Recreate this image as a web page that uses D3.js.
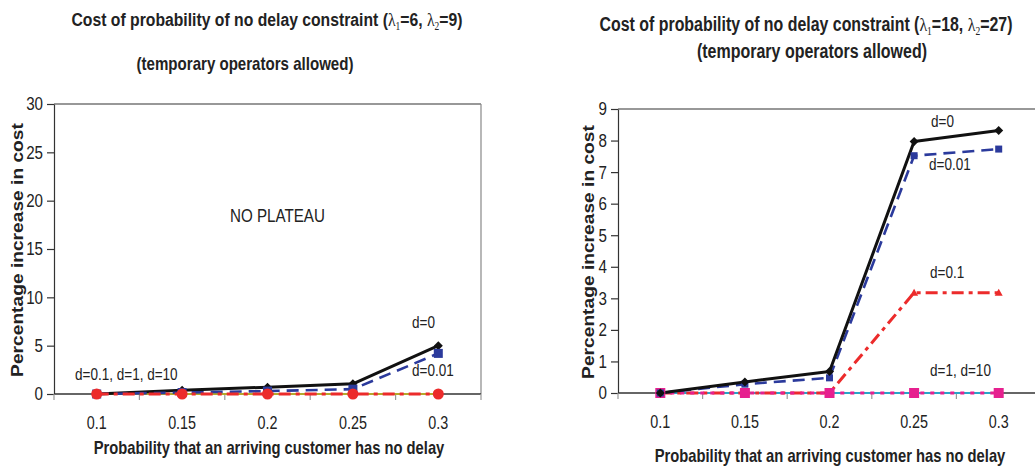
<!DOCTYPE html>
<html>
<head>
<meta charset="utf-8">
<script src="https://cdn.jsdelivr.net/npm/d3@7"></script>
<style>
  html, body { margin: 0; padding: 0; background: #fff; }
  svg { display: block; font-family: "Liberation Sans", Arial, sans-serif; }
</style>
</head>
<body>
<svg id="chart" width="1035" height="470"></svg>
<script>
// Shared categories: probability that an arriving customer has no delay
const categories = ["0.1", "0.15", "0.2", "0.25", "0.3"];

// Left panel (lambda1 = 6, lambda2 = 9)
const leftD0    = [0, 0.4, 0.7, 1.05, 5.0];
const leftD001  = [0, 0.15, 0.3, 0.5, 4.2];
const leftD01   = [0, 0, 0, 0, 0];
const leftD1    = [0, 0, 0, 0, 0];
const leftD10   = [0, 0, 0, 0, 0];
const leftYTicks = [0, 5, 10, 15, 20, 25, 30];

// Right panel (lambda1 = 18, lambda2 = 27)
const rightD0   = [0, 0.35, 0.68, 7.97, 8.32];
const rightD001 = [0, 0.28, 0.48, 7.52, 7.73];
const rightD01  = [0, 0, 0, 3.18, 3.18];
const rightD1   = [0, 0, 0, 0, 0];
const rightD10  = [0, 0, 0, 0, 0];
const rightYTicks = [0, 1, 2, 3, 4, 5, 6, 7, 8, 9];

const svg = d3.select("#chart");
const AXIS = "#333";
const INK = "#222";
const SQUEEZE = 0.82;   // condensed look for horizontal text

// horizontal text drawn with a condensed face
function narrow(parent, x, y, size, opts = {}) {
  return parent.append("text")
    .attr("transform", `translate(${x},${y}) scale(${SQUEEZE},1)`)
    .attr("text-anchor", opts.anchor || "start")
    .attr("font-size", size)
    .attr("font-weight", opts.bold ? "bold" : "normal")
    .attr("fill", INK);
}

function diamond(g, x, y, s, color) {
  g.append("path")
    .attr("d", `M${x},${y - s}L${x + s},${y}L${x},${y + s}L${x - s},${y}Z`)
    .attr("fill", color);
}

function panel(opt) {
  const g = svg.append("g");
  const x = d3.scaleBand().domain(categories).range([opt.x0, opt.x1]).padding(0);
  const y = d3.scaleLinear().domain([0, opt.yMax]).range([opt.y0, opt.y1]);
  const cx = c => x(c) + x.bandwidth() / 2;

  // frame: top edge and (optionally) right edge
  g.append("line").attr("x1", opt.x0).attr("x2", opt.x1).attr("y1", opt.y1).attr("y2", opt.y1)
    .attr("stroke", AXIS).attr("stroke-width", 1.2);
  if (opt.rightEdge) {
    g.append("line").attr("x1", opt.x1).attr("x2", opt.x1).attr("y1", opt.y1).attr("y2", opt.y0)
      .attr("stroke", "#888").attr("stroke-width", 1.2);
  }

  // y axis
  const yAxis = d3.axisLeft(y).tickValues(opt.yTicks).tickSize(7).tickSizeOuter(0).tickPadding(4);
  const ya = g.append("g").attr("transform", `translate(${opt.x0},0)`).call(yAxis)
    .attr("font-family", null).attr("font-size", null);
  ya.select(".domain").attr("stroke", AXIS).attr("stroke-width", 1.2);
  ya.selectAll(".tick line").attr("stroke", AXIS).attr("stroke-width", 1.2);
  ya.selectAll(".tick text").each(function () {
    const t = d3.select(this);
    const tx = +t.attr("x");
    t.attr("x", 0).attr("transform", `translate(${tx},0) scale(${SQUEEZE},1)`)
      .attr("font-size", 18.5).attr("fill", INK);
  });

  // x axis: labels centred in bands, tick marks on band boundaries
  const xa = g.append("g").attr("transform", `translate(0,${opt.y0})`)
    .call(d3.axisBottom(x).tickSize(0).tickPadding(23))
    .attr("font-family", null).attr("font-size", null);
  xa.select(".domain").remove();
  xa.selectAll(".tick text").attr("transform", `scale(${SQUEEZE},1)`)
    .attr("font-size", 17.5).attr("fill", INK);
  g.append("line").attr("x1", opt.x0).attr("x2", opt.axisEnd).attr("y1", opt.y0).attr("y2", opt.y0)
    .attr("stroke", AXIS).attr("stroke-width", 1.4);
  const bounds = categories.map(c => x(c)).concat([opt.x1]);
  g.selectAll(".xb").data(bounds).join("line")
    .attr("x1", d => d).attr("x2", d => d).attr("y1", opt.y0).attr("y2", opt.y0 + 6)
    .attr("stroke", "#999").attr("stroke-width", 1.2);

  const line = d3.line().x((d, i) => cx(categories[i])).y(d => y(d));

  opt.series.forEach(s => {
    g.append("path").datum(s.values).attr("d", line)
      .attr("fill", "none").attr("stroke", s.color).attr("stroke-width", s.width)
      .attr("stroke-dasharray", s.dash || null).attr("stroke-linejoin", "round");
  });
  opt.series.forEach(s => {
    s.values.forEach((v, i) => {
      const px = cx(categories[i]), py = y(v);
      if (s.marker === "diamond") diamond(g, px, py, 4.5, s.color);
      else if (s.marker === "square") g.append("rect").attr("x", px - s.ms / 2).attr("y", py - s.ms / 2)
        .attr("width", s.ms).attr("height", s.ms).attr("fill", s.color);
      else if (s.marker === "circle") g.append("circle").attr("cx", px).attr("cy", py).attr("r", s.ms / 2).attr("fill", s.color);
      else if (s.marker === "triangle") g.append("path")
        .attr("d", `M${px},${py - 4}L${px + 4},${py + 3}L${px - 4},${py + 3}Z`).attr("fill", s.color);
    });
  });

  // titles
  opt.title.forEach(t => {
    const tx = narrow(g, t.x, t.y, t.size, { anchor: "middle", bold: true });
    t.parts.forEach(p => {
      const sp = tx.append("tspan").text(p.text);
      if (p.lambda) sp.attr("font-family", "'Liberation Serif', 'Times New Roman', serif").attr("font-weight", "normal");
      if (p.sub) sp.attr("font-size", t.size * 0.6).attr("dy", 4);
      if (p.up) sp.attr("dy", -4);
    });
  });

  // axis titles
  g.append("text")
    .attr("transform", `translate(${opt.yLabelX},${(opt.y0 + opt.y1) / 2 + 1}) scale(0.9,1) rotate(-90)`)
    .attr("text-anchor", "middle").attr("font-size", 19.2).attr("font-weight", "bold").attr("fill", INK)
    .text("Percentage increase in cost");
  narrow(g, opt.xLabelX, opt.xLabelY, 18, { anchor: "middle", bold: true })
    .text("Probability that an arriving customer has no delay");

  // annotations
  opt.notes.forEach(n => {
    narrow(g, n.x, n.y, n.size || 16.5).text(n.text);
  });
}

const black = "#111", blue = "#2b3a9c", red = "#ec2b2b";

panel({
  x0: 54, x1: 481, axisEnd: 481, y0: 394, y1: 104, yMax: 30, yTicks: leftYTicks, rightEdge: true,
  yLabelX: 23, xLabelX: 269, xLabelY: 454,
  series: [
    { values: leftD10, color: "#b4a92c", width: 2 },
    { values: leftD1,  color: "#b4a92c", width: 2 },
    { values: leftD0,  color: black, width: 3, marker: "diamond" },
    { values: leftD001, color: blue, width: 2.6, dash: "12,7", marker: "square", ms: 9 },
    { values: leftD01, color: red, width: 3.2, dash: "12,5,4,5", marker: "circle", ms: 11 }
  ],
  title: [
    { x: 267, y: 26, size: 19.2, parts: [ { text: "Cost of probability of no delay constraint (" },
      { text: "λ", lambda: true }, { text: "1", lambda: true, sub: true }, { text: "=6, ", up: true },
      { text: "λ", lambda: true }, { text: "2", lambda: true, sub: true }, { text: "=9)", up: true } ] },
    { x: 245, y: 70, size: 18.4, parts: [ { text: "(temporary operators allowed)" } ] }
  ],
  notes: [
    { x: 230, y: 222, text: "NO PLATEAU", size: 18.5 },
    { x: 412, y: 328, text: "d=0" },
    { x: 412, y: 376, text: "d=0.01" },
    { x: 75, y: 380, text: "d=0.1, d=1, d=10" }
  ]
});

panel({
  x0: 618, x1: 1041, axisEnd: 1035, y0: 393, y1: 109, yMax: 9, yTicks: rightYTicks, rightEdge: false,
  yLabelX: 594, xLabelX: 830, xLabelY: 462,
  series: [
    { values: rightD1,  color: "#2aa6c8", width: 2.2 },
    { values: rightD01, color: red, width: 3, dash: "12,5,4,5", marker: "triangle" },
    { values: rightD10, color: "#e6208f", width: 3.2, dash: "4,6", marker: "square", ms: 10 },
    { values: rightD001, color: blue, width: 2.6, dash: "12,7", marker: "square", ms: 7 },
    { values: rightD0,  color: black, width: 3, marker: "diamond" }
  ],
  title: [
    { x: 806, y: 31, size: 19.4, parts: [ { text: "Cost of probability of no delay constraint (" },
      { text: "λ", lambda: true }, { text: "1", lambda: true, sub: true }, { text: "=18, ", up: true },
      { text: "λ", lambda: true }, { text: "2", lambda: true, sub: true }, { text: "=27)", up: true } ] },
    { x: 812, y: 58, size: 19.5, parts: [ { text: "(temporary operators allowed)" } ] }
  ],
  notes: [
    { x: 931, y: 127, text: "d=0" },
    { x: 929, y: 170, text: "d=0.01" },
    { x: 930, y: 278, text: "d=0.1" },
    { x: 930, y: 376, text: "d=1, d=10" }
  ]
});
</script>
</body>
</html>
